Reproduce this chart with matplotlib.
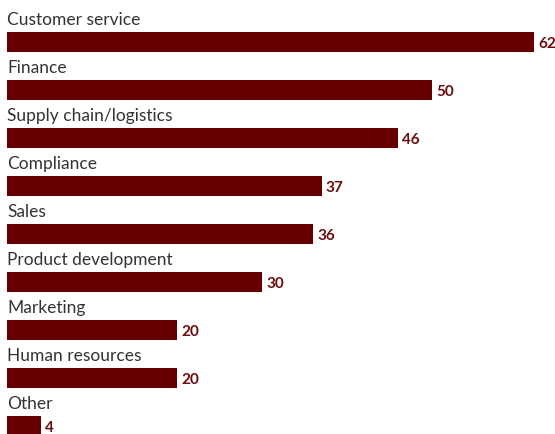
import matplotlib.pyplot as plt

categories = ["Customer service", "Finance", "Supply chain/logistics", "Compliance",
              "Sales", "Product development", "Marketing", "Human resources", "Other"]
values = [62, 50, 46, 37, 36, 30, 20, 20, 4]

BAR_COLOR = "#660000"
LABEL_COLOR = "#333333"
VALUE_COLOR = "#6b0d0d"

plt.rcParams['font.family'] = ['Lato', 'DejaVu Sans']

fig = plt.figure(figsize=(5.55, 4.35), dpi=100)
ax = fig.add_axes([0, 0, 1, 1])

# pixel-based layout: 8.5 px per unit, rows 48 px apart
px_per_unit = 8.5
row = 48.0
ax.set_xlim(-7 / px_per_unit, (555 - 7) / px_per_unit)
ax.set_ylim((435 - 43) / row, -43 / row)

pos = list(range(len(categories)))
ax.barh(pos, values, height=20 / row, color=BAR_COLOR, left=0)

for i, (cat, v) in enumerate(zip(categories, values)):
    ax.text(0, i - 18 / row, cat, ha="left", va="baseline",
            fontsize=12.5, color=LABEL_COLOR)
    ax.text(v + 4 / px_per_unit, i + 1 / row, str(v), ha="left", va="center",
            fontsize=11, fontweight="bold", color=VALUE_COLOR)

ax.axis("off")
fig.savefig("out.png", dpi=100)
